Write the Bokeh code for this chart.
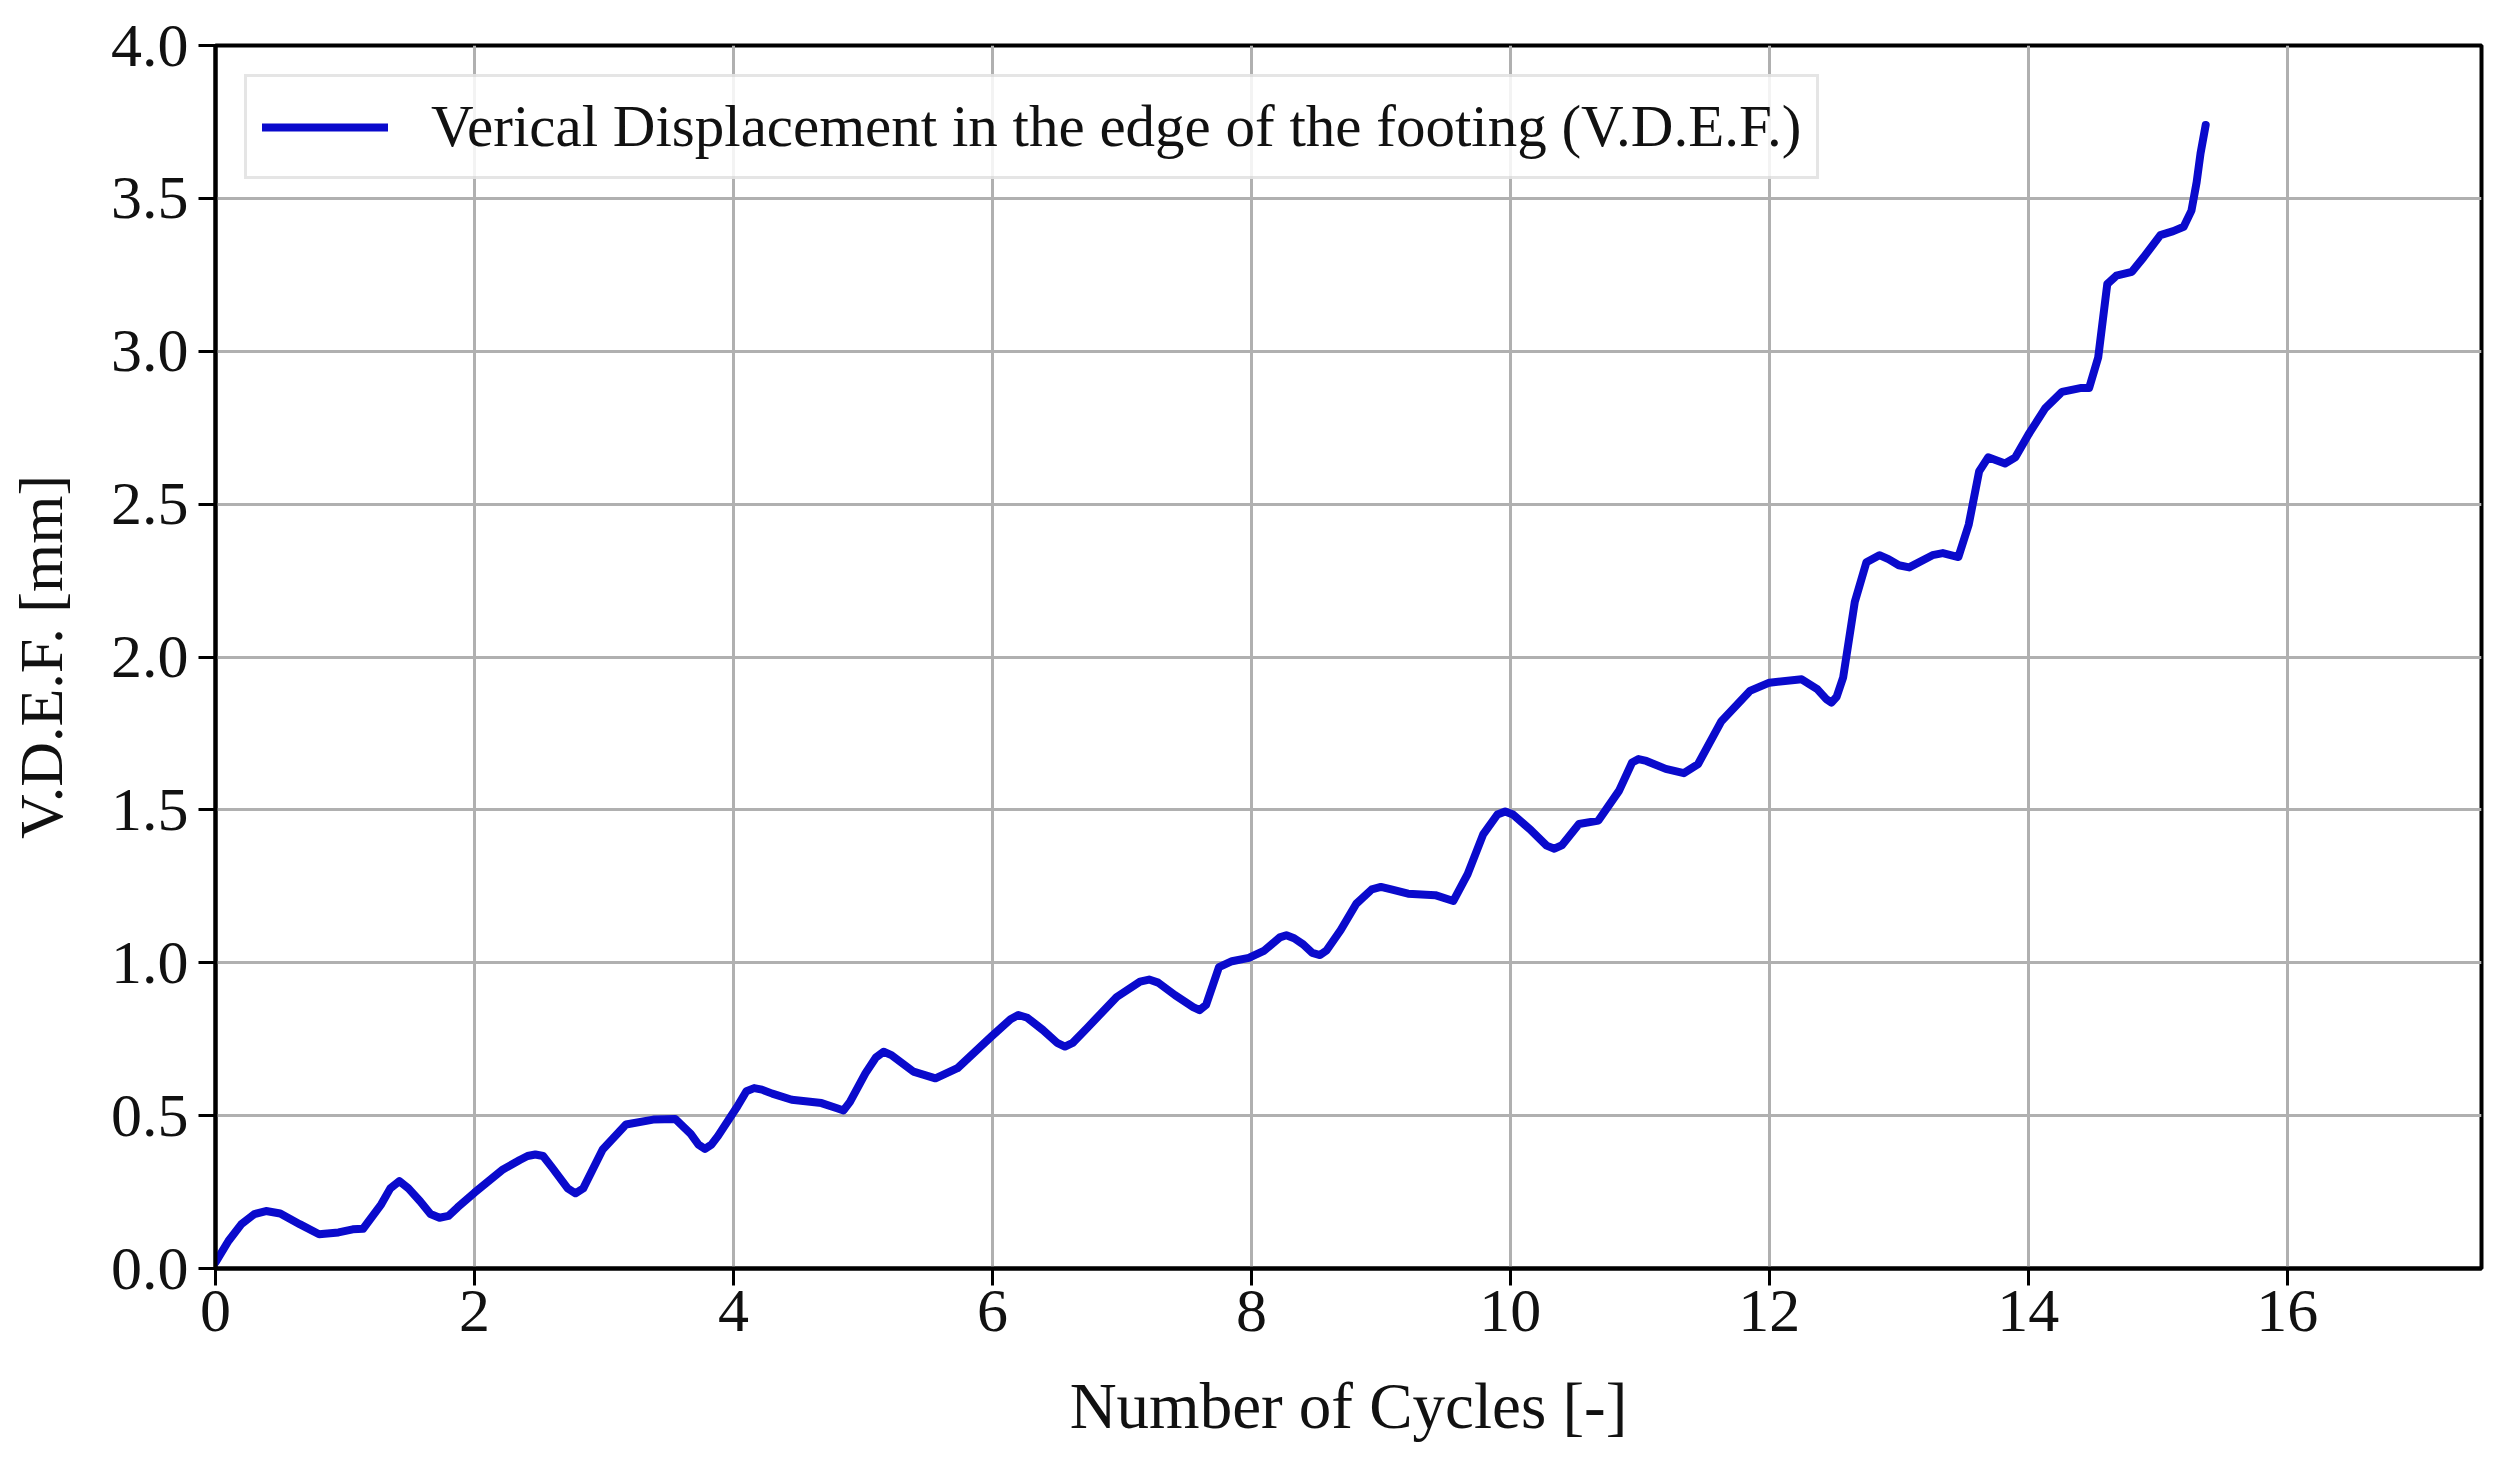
from bokeh.plotting import figure
from bokeh.models import Range1d, FixedTicker, PrintfTickFormatter, Legend, LegendItem
from bokeh.embed import file_html
from bokeh.resources import INLINE

cycles = [
    0.0, 0.1, 0.2, 0.3, 0.39, 0.5, 0.65, 0.8, 0.95, 1.06,
    1.14, 1.28, 1.35, 1.42, 1.49, 1.58, 1.66, 1.73, 1.80, 1.87,
    2.0, 2.22, 2.35, 2.41, 2.47, 2.53, 2.6, 2.72, 2.78, 2.84,
    2.99, 3.17, 3.38, 3.55, 3.67, 3.73, 3.78, 3.83, 3.88, 4.03,
    4.10, 4.16, 4.22, 4.3, 4.45, 4.68, 4.80, 4.85, 4.90, 5.02,
    5.10, 5.16, 5.22, 5.39, 5.56, 5.73, 5.99, 6.14, 6.2, 6.27,
    6.39, 6.50, 6.56, 6.62, 6.73, 6.96, 7.14, 7.21, 7.28, 7.41,
    7.55, 7.6, 7.65, 7.75, 7.85, 7.98, 8.1, 8.22, 8.27, 8.33,
    8.4, 8.47, 8.53, 8.58, 8.69, 8.81, 8.93, 9.0, 9.08, 9.21,
    9.42, 9.56, 9.67, 9.79, 9.90, 9.96, 10.02, 10.16, 10.28, 10.34,
    10.40, 10.53, 10.68, 10.84, 10.94, 10.99, 11.05, 11.2, 11.34, 11.45,
    11.63, 11.85, 12.0, 12.25, 12.37, 12.44, 12.48, 12.52, 12.57, 12.66,
    12.75, 12.85, 12.92, 13.0, 13.08, 13.26, 13.34, 13.46, 13.54, 13.62,
    13.69, 13.82, 13.9, 14.0, 14.13, 14.26, 14.41, 14.47, 14.54, 14.61,
    14.68, 14.8, 14.89, 15.02, 15.12, 15.2, 15.26, 15.3, 15.33, 15.37,
]
vdef = [
    0.02, 0.09, 0.145, 0.178, 0.188, 0.18, 0.145, 0.112, 0.118, 0.128,
    0.13, 0.21, 0.262, 0.286, 0.262, 0.22, 0.178, 0.166, 0.172, 0.2,
    0.248, 0.324, 0.355, 0.368, 0.373, 0.368, 0.33, 0.262, 0.246, 0.262,
    0.389, 0.471, 0.487, 0.489, 0.44, 0.405, 0.391, 0.405, 0.433, 0.53,
    0.58, 0.59, 0.585, 0.572, 0.552, 0.541, 0.524, 0.517, 0.545, 0.639,
    0.69, 0.709, 0.698, 0.644, 0.622, 0.655, 0.758, 0.815, 0.829, 0.82,
    0.78, 0.738, 0.726, 0.738, 0.786, 0.888, 0.938, 0.945, 0.935, 0.894,
    0.855, 0.845, 0.862, 0.986, 1.005, 1.016, 1.04, 1.083, 1.09, 1.08,
    1.06, 1.032, 1.025, 1.04, 1.107, 1.193, 1.24, 1.248, 1.24, 1.226,
    1.221, 1.202, 1.29, 1.42, 1.485, 1.495, 1.485, 1.433, 1.383, 1.373,
    1.385, 1.454, 1.465, 1.563, 1.655, 1.666, 1.66, 1.634, 1.62, 1.65,
    1.79, 1.889, 1.916, 1.927, 1.895, 1.862, 1.851, 1.87, 1.933, 2.18,
    2.31, 2.333, 2.32, 2.30, 2.293, 2.333, 2.34, 2.327, 2.433, 2.607,
    2.653, 2.633, 2.653, 2.727, 2.813, 2.867, 2.88, 2.88, 2.98, 3.22,
    3.247, 3.26, 3.307, 3.38, 3.393, 3.407, 3.46, 3.553, 3.647, 3.74,
]

x_ticks = [0, 2, 4, 6, 8, 10, 12, 14, 16]
y_ticks = [0.0, 0.5, 1.0, 1.5, 2.0, 2.5, 3.0, 3.5, 4.0]
series_label = "Verical Displacement in the edge of the footing (V.D.E.F.)"
x_label = "Number of Cycles [-]"
y_label = "V.D.E.F. [mm]"

FONT = "Liberation Serif"

p = figure(width=2494, height=1455, output_backend="svg", toolbar_location=None,
           x_range=Range1d(0, 17.5), y_range=Range1d(0, 4.0),
           min_border_left=215, min_border_right=13, min_border_top=45, min_border_bottom=187)

p.background_fill_color = "white"
p.border_fill_color = "white"
p.outline_line_color = "black"
p.outline_line_width = 4

r = p.line(cycles, vdef, line_color="#0a0acc", line_width=8, line_join="round", line_cap="round")

for ax in (p.xaxis[0], p.yaxis[0]):
    ax.axis_line_color = "black"
    ax.axis_line_width = 4
    ax.major_tick_line_color = "black"
    ax.major_tick_line_width = 3
    ax.major_tick_out = 17
    ax.major_tick_in = 0
    ax.minor_tick_line_color = None
    ax.major_label_text_font = FONT
    ax.major_label_text_font_size = "62px"
    ax.major_label_text_color = "#111111"
    ax.axis_label_text_font = FONT
    ax.axis_label_text_font_style = "normal"
    ax.axis_label_text_color = "#111111"

p.xaxis.ticker = FixedTicker(ticks=x_ticks)
p.yaxis.ticker = FixedTicker(ticks=y_ticks)
p.yaxis.formatter = PrintfTickFormatter(format="%.1f")
p.xaxis.axis_label = x_label
p.yaxis.axis_label = y_label
p.xaxis.axis_label_text_font_size = "65px"
p.yaxis.axis_label_text_font_size = "62px"
p.xaxis.major_label_standoff = 5
p.yaxis.major_label_standoff = 10
p.xaxis.axis_label_standoff = 36
p.yaxis.axis_label_standoff = 33

p.grid.grid_line_color = "#b0b0b0"
p.grid.grid_line_width = 3
p.xgrid.ticker = FixedTicker(ticks=x_ticks)
p.ygrid.ticker = FixedTicker(ticks=y_ticks)

legend = Legend(items=[LegendItem(label=series_label, renderers=[r])],
                location="top_left", margin=29, padding=15,
                glyph_width=126, glyph_height=30, label_standoff=43,
                label_text_font=FONT, label_text_font_size="59px",
                label_text_color="#111111",
                border_line_color="#cccccc", border_line_width=3,
                background_fill_color="white", background_fill_alpha=0.85)
p.add_layout(legend)

open("out.html", "w").write(file_html(p, INLINE))
